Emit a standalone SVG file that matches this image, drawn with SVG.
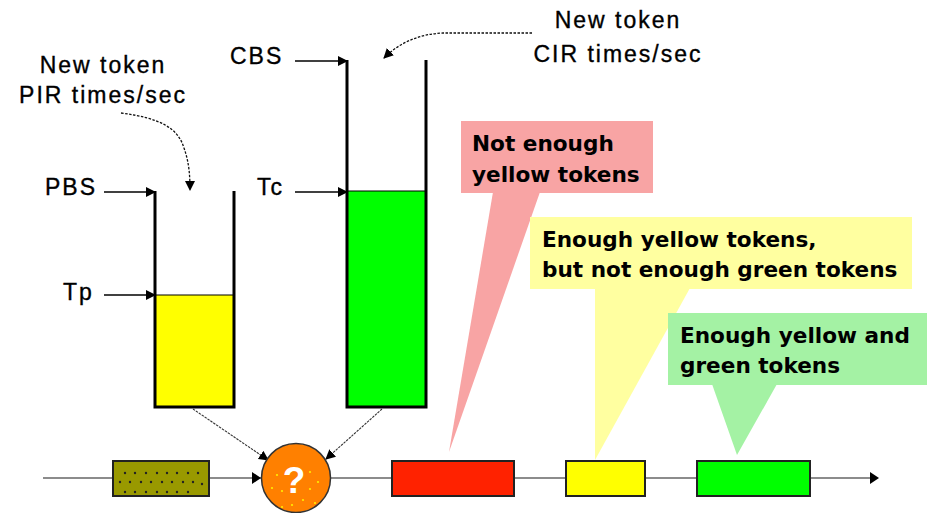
<svg xmlns="http://www.w3.org/2000/svg" width="930" height="513" viewBox="0 0 930 513">
<style>
.lbl{font-family:"Liberation Sans",Arial,sans-serif;font-size:23px;letter-spacing:2px;fill:#000;stroke:#000;stroke-width:0.35}
.call{font-family:"DejaVu Sans",Verdana,sans-serif;font-weight:bold;font-size:21.6px;fill:#000}
.wall{fill:none;stroke:#000;stroke-width:3}
.lvl{stroke:#000;stroke-width:1.3;fill:none;marker-end:url(#ah)}
.dash{stroke:#111;stroke-width:1.3;fill:none;stroke-dasharray:2.5 1.5;marker-end:url(#ah)}
.box{stroke:#222;stroke-width:2}
.dot{fill:#222}
.ydot{fill:#ffee00}
</style>
<defs>
<marker id="ah" viewBox="0 0 10 10" refX="9" refY="5" markerWidth="10" markerHeight="10" markerUnits="userSpaceOnUse" orient="auto">
<path d="M0,0 L10,5 L0,10 z" fill="#000"/>
</marker>
</defs>
<rect width="930" height="513" fill="#fff"/>

<g id="callout-red">
<polygon points="493,192 540,192 449,452" fill="#f8a4a4"/>
<rect x="461" y="121" width="192" height="72" fill="#f8a4a4"/>
<text class="call" x="472" y="151">Not enough</text>
<text class="call" x="472" y="182">yellow tokens</text>
</g>
<g id="callout-yellow">
<polygon points="595,288 690,288 595,460" fill="#ffffa0"/>
<rect x="530" y="217" width="382" height="72" fill="#ffffa0"/>
<text class="call" x="542" y="247">Enough yellow tokens,</text>
<text class="call" x="542" y="277">but not enough green tokens</text>
</g>
<g id="callout-green">
<polygon points="712,384 777,384 737,455" fill="#a4f2a4"/>
<rect x="668" y="313" width="259" height="72" fill="#a4f2a4"/>
<text class="call" x="680" y="343">Enough yellow and</text>
<text class="call" x="680" y="373">green tokens</text>
</g>

<g id="labels">
<text class="lbl" x="103" y="73" text-anchor="middle">New token</text>
<text class="lbl" x="103" y="103" text-anchor="middle">PIR times/sec</text>
<text class="lbl" x="618" y="28" text-anchor="middle">New token</text>
<text class="lbl" x="618" y="62" text-anchor="middle">CIR times/sec</text>
<text class="lbl" x="230" y="64">CBS</text>
<text class="lbl" x="45" y="195">PBS</text>
<text class="lbl" x="257" y="195">Tc</text>
<text class="lbl" x="63" y="300">Tp</text>
</g>

<g id="bucket-p">
<rect x="155" y="295" width="79" height="112" fill="#ffff00" stroke="#000" stroke-width="1"/>
<path class="wall" d="M155,191 V407 H234 V191"/>
</g>
<g id="bucket-c">
<rect x="347" y="191" width="79" height="216" fill="#00ff00" stroke="#000" stroke-width="1"/>
<path class="wall" d="M347,60 V407 H426 V60"/>
</g>

<g id="connectors">
<line class="lvl" x1="295" y1="61" x2="347" y2="61"/>
<line class="lvl" x1="104" y1="192" x2="155" y2="192"/>
<line class="lvl" x1="295" y1="192" x2="347" y2="192"/>
<line class="lvl" x1="104" y1="295" x2="155" y2="295"/>
<path class="dash" d="M121,113 C160,118 178,128 184,148 C189,162 190,175 190,190"/>
<path class="dash" d="M532,33 L443,33 C420,34 400,42 384,58"/>
<line x1="43" y1="478" x2="872" y2="478" stroke="#666" stroke-width="1.5"/>
<path d="M870,472 L879,478 L870,484 z" fill="#000"/>
<path d="M252,472 L261,478 L252,484 z" fill="#000"/>
<line x1="193" y1="409" x2="268" y2="460" stroke="#333" stroke-width="1.1" stroke-dasharray="2.5 1" marker-end="url(#ah)"/>
<line x1="382" y1="409" x2="326" y2="459" stroke="#333" stroke-width="1.1" stroke-dasharray="2.5 1" marker-end="url(#ah)"/>
</g>

<g id="packet-olive">
<rect class="box" x="113" y="461" width="96" height="35" fill="#999900"/>
<g class="dot">
<circle cx="125" cy="473" r="1.2"/><circle cx="135" cy="473" r="1.2"/><circle cx="146" cy="473" r="1.2"/><circle cx="157" cy="473" r="1.2"/><circle cx="167" cy="473" r="1.2"/><circle cx="177" cy="473" r="1.2"/><circle cx="188" cy="473" r="1.2"/><circle cx="198" cy="473" r="1.2"/>
<circle cx="120" cy="482" r="1.2"/><circle cx="130" cy="482" r="1.2"/><circle cx="141" cy="482" r="1.2"/><circle cx="151" cy="482" r="1.2"/><circle cx="162" cy="482" r="1.2"/><circle cx="172" cy="482" r="1.2"/><circle cx="183" cy="482" r="1.2"/><circle cx="193" cy="482" r="1.2"/><circle cx="202" cy="484" r="1.2"/>
<circle cx="125" cy="492" r="1.2"/><circle cx="135" cy="492" r="1.2"/><circle cx="146" cy="492" r="1.2"/><circle cx="157" cy="492" r="1.2"/><circle cx="167" cy="492" r="1.2"/><circle cx="177" cy="492" r="1.2"/><circle cx="188" cy="492" r="1.2"/>
</g>
</g>

<g id="decision">
<circle cx="296" cy="478" r="34.5" fill="#ff8000" stroke="#333" stroke-width="1.5"/>
<g class="ydot">
<circle cx="277" cy="475" r="1.1"/><circle cx="310" cy="472" r="1.1"/><circle cx="318" cy="482" r="1.1"/><circle cx="272" cy="488" r="1.1"/><circle cx="282" cy="491" r="1.1"/><circle cx="310" cy="489" r="1.1"/><circle cx="303" cy="500" r="1.1"/><circle cx="292" cy="505" r="1.1"/><circle cx="315" cy="503" r="1.1"/><circle cx="282" cy="507" r="1.1"/>
</g>
<text x="294" y="493" text-anchor="middle" font-family="Liberation Sans, Arial, sans-serif" font-weight="bold" font-size="37" fill="#fff">?</text>
</g>

<g id="packet-red"><rect class="box" x="392" y="461" width="122" height="35" fill="#ff2200"/></g>
<g id="packet-yellow"><rect class="box" x="566" y="461" width="79" height="35" fill="#ffff00"/></g>
<g id="packet-green"><rect class="box" x="697" y="461" width="113" height="35" fill="#00ff00"/></g>
</svg>
